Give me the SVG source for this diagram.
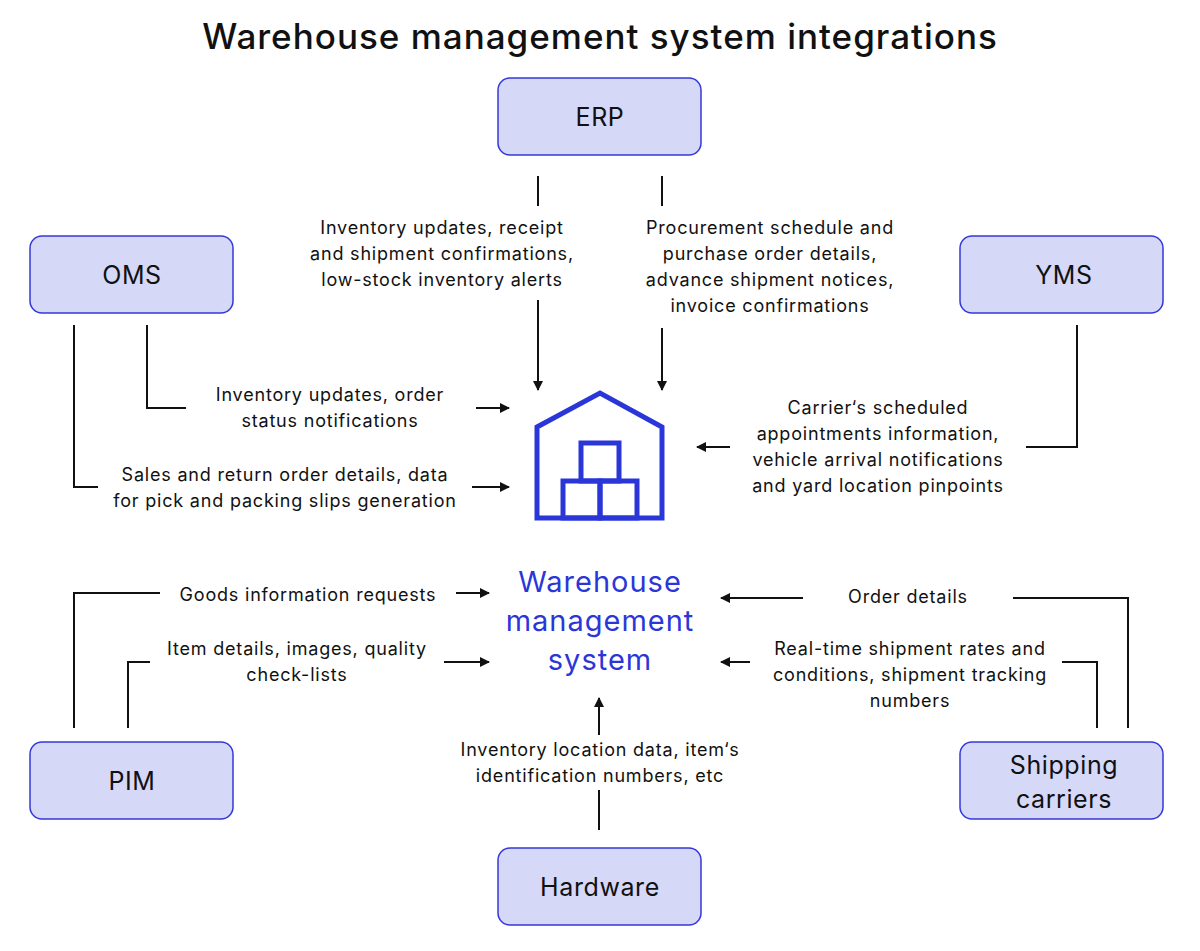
<svg xmlns="http://www.w3.org/2000/svg" width="1200" height="951" viewBox="0 0 1200 951">
<style>
.n rect{fill:#d6d8f8;stroke:#3438d8;stroke-width:1.5}
.n text{font-family:Inter,"Noto Sans",sans-serif;font-size:25px;letter-spacing:0.6px;fill:#111;text-anchor:middle}
.l{font-family:Inter,"Noto Sans",sans-serif;font-size:18px;letter-spacing:0.8px;fill:#111;text-anchor:middle}
#connectors path{fill:none;stroke:#111;stroke-width:2}
</style>
<defs><marker id="a" viewBox="0 0 10 10" refX="9" refY="5" markerWidth="5" markerHeight="5" orient="auto"><path d="M0,0L10,5L0,10z" fill="#111"/></marker></defs>
<rect width="1200" height="951" fill="#fff"/>
<text x="600" y="49" font-family="Inter,'Noto Sans',sans-serif" font-size="35" letter-spacing="1" font-weight="500" text-anchor="middle" fill="#111">Warehouse management system integrations</text>
<g id="erp" class="n"><rect x="498" y="78" width="203" height="77" rx="12"/><text x="600" y="126">ERP</text></g>
<g id="oms" class="n"><rect x="30" y="236" width="203" height="77" rx="12"/><text x="132" y="284">OMS</text></g>
<g id="yms" class="n"><rect x="960" y="236" width="203" height="77" rx="12"/><text x="1064" y="284">YMS</text></g>
<g id="pim" class="n"><rect x="30" y="742" width="203" height="77" rx="12"/><text x="132" y="790">PIM</text></g>
<g id="ship" class="n"><rect x="960" y="742" width="203" height="77" rx="12"/><text x="1064" y="774">Shipping</text><text x="1064" y="808">carriers</text></g>
<g id="hw" class="n"><rect x="498" y="848" width="203" height="77" rx="12"/><text x="600" y="896">Hardware</text></g>
<g id="wms">
<g fill="none" stroke="#2b36d9" stroke-width="5"><path d="M537,427L600,393L662,427V518H537Z"/><rect x="581" y="443" width="38" height="38"/><rect x="563" y="481" width="37" height="37"/><rect x="600" y="481" width="37" height="37"/></g>
<g font-family="Inter,'Noto Sans',sans-serif" font-size="29" letter-spacing="1" fill="#2b36d9" text-anchor="middle"><text x="600" y="592">Warehouse</text><text x="600" y="631">management</text><text x="600" y="670">system</text></g>
</g>
<g id="connectors">
<path d="M538,176V206"/><path d="M538,300V390" marker-end="url(#a)"/>
<path d="M662,176V206"/><path d="M662,328V390" marker-end="url(#a)"/>
<path d="M147,325V408H186"/><path d="M476,408H509" marker-end="url(#a)"/>
<path d="M74,325V487H98"/><path d="M472,487H509" marker-end="url(#a)"/>
<path d="M1077,325V447H1026"/><path d="M730,447H697" marker-end="url(#a)"/>
<path d="M74,728V593H160"/><path d="M456,593H489" marker-end="url(#a)"/>
<path d="M128,728V662H150"/><path d="M444,662H489" marker-end="url(#a)"/>
<path d="M1128,728V598H1013"/><path d="M803,598H721" marker-end="url(#a)"/>
<path d="M1097,728V662H1062"/><path d="M750,662H721" marker-end="url(#a)"/>
<path d="M599,830V790"/><path d="M599,735V698" marker-end="url(#a)"/>
</g>
<g id="labels" class="l">
<text class="l" x="442" y="234">Inventory updates, receipt</text><text class="l" x="442" y="260">and shipment confirmations,</text><text class="l" x="442" y="286">low-stock inventory alerts</text>
<text class="l" x="770" y="234">Procurement schedule and</text><text class="l" x="770" y="260">purchase order details,</text><text class="l" x="770" y="286">advance shipment notices,</text><text class="l" x="770" y="312">invoice confirmations</text>
<text class="l" x="330" y="401">Inventory updates, order</text><text class="l" x="330" y="427">status notifications</text>
<text class="l" x="285" y="481">Sales and return order details, data</text><text class="l" x="285" y="507">for pick and packing slips generation</text>
<text class="l" x="878" y="414">Carrier‘s scheduled</text><text class="l" x="878" y="440">appointments information,</text><text class="l" x="878" y="466">vehicle arrival notifications</text><text class="l" x="878" y="492">and yard location pinpoints</text>
<text class="l" x="308" y="601">Goods information requests</text>
<text class="l" x="297" y="655">Item details, images, quality</text><text class="l" x="297" y="681">check-lists</text>
<text class="l" x="908" y="603">Order details</text>
<text class="l" x="910" y="655">Real-time shipment rates and</text><text class="l" x="910" y="681">conditions, shipment tracking</text><text class="l" x="910" y="707">numbers</text>
<text class="l" x="600" y="756">Inventory location data, item‘s</text><text class="l" x="600" y="782">identification numbers, etc</text>
</g>
</svg>
